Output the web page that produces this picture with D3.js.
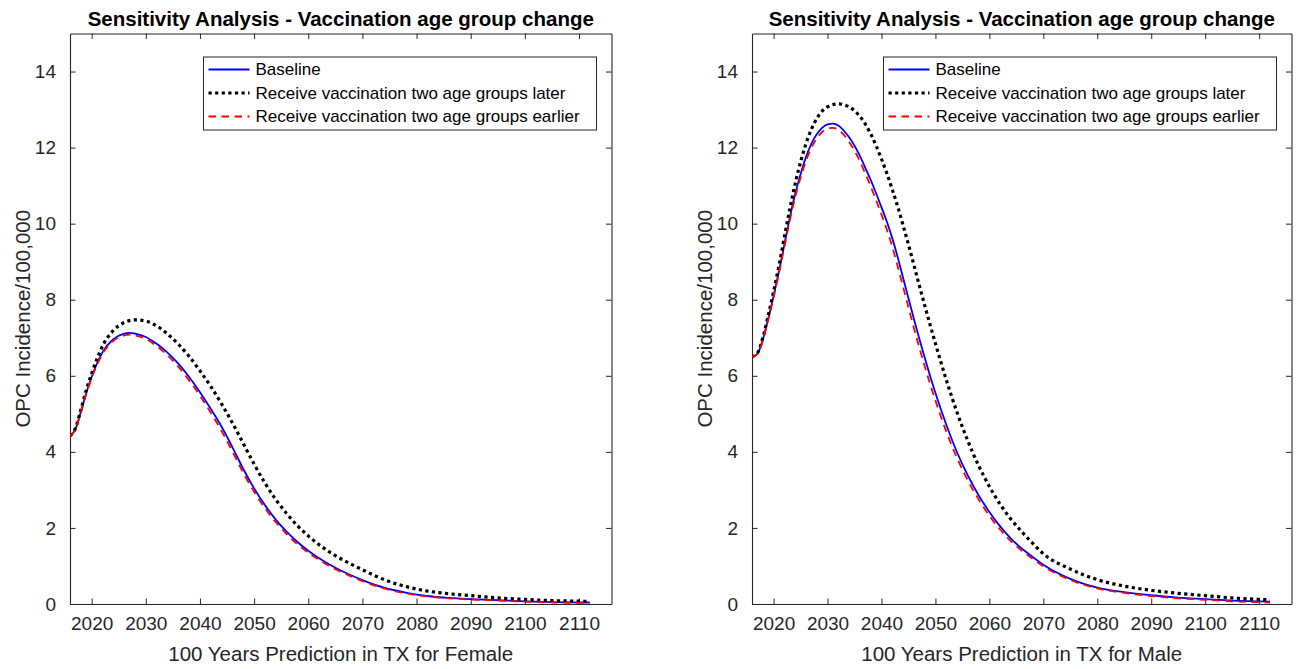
<!DOCTYPE html>
<html>
<head>
<meta charset="utf-8">
<script src="https://cdn.jsdelivr.net/npm/d3@7"></script>
<style>
  html, body { margin: 0; padding: 0; background: #fff; }
  svg { display: block; font-family: "Liberation Sans", Arial, Helvetica, sans-serif; }
</style>
</head>
<body>
<svg id="chart" width="1306" height="669"></svg>
<script>
// ---------------- DATA ----------------
const titleText = "Sensitivity Analysis - Vaccination age group change";
const yLabelText = "OPC Incidence/100,000";
const xLabels = ["100 Years Prediction in TX for Female", "100 Years Prediction in TX for Male"];
const seriesNames = ["Baseline", "Receive vaccination two age groups later", "Receive vaccination two age groups earlier"];
const xTicks = [2020, 2030, 2040, 2050, 2060, 2070, 2080, 2090, 2100, 2110];
const xTickLabels = ["2020", "2030", "2040", "2050", "2060", "2070", "2080", "2090", "2100", "2110"];
const yTicks = [0, 2, 4, 6, 8, 10, 12, 14];
const yTickLabels = ["0", "2", "4", "6", "8", "10", "12", "14"];
const xDomain = [2016, 2116];
const yDomain = [0, 15];

// Female panel
const femaleYears = [2016,2017,2018,2019,2020,2021,2022,2024,2026,2027,2028,2030,2032,2034,2036,2038,2040,2042,2044,2046,2048,2050,2052,2054,2056,2058,2060,2062,2064,2066,2068,2070,2074,2078,2082,2086,2090,2095,2100,2105,2112];
const femaleBaseline = [4.42,4.60,5.05,5.55,5.97,6.33,6.62,6.96,7.11,7.13,7.11,7.02,6.84,6.61,6.32,5.97,5.57,5.13,4.66,4.12,3.55,3.04,2.60,2.22,1.90,1.63,1.40,1.20,1.03,0.88,0.75,0.63,0.43,0.30,0.21,0.16,0.13,0.10,0.07,0.05,0.04];
const femaleLater    = [4.42,4.62,5.10,5.62,6.06,6.45,6.78,7.19,7.40,7.45,7.47,7.44,7.31,7.10,6.83,6.51,6.13,5.72,5.26,4.76,4.22,3.68,3.18,2.75,2.38,2.06,1.79,1.56,1.36,1.19,1.04,0.90,0.64,0.46,0.34,0.27,0.22,0.16,0.12,0.09,0.07];
const femaleEarlier  = [4.42,4.59,5.03,5.52,5.94,6.29,6.58,6.92,7.06,7.08,7.06,6.97,6.78,6.54,6.24,5.88,5.48,5.03,4.55,4.01,3.45,2.95,2.52,2.15,1.84,1.57,1.35,1.16,0.99,0.85,0.72,0.60,0.41,0.28,0.20,0.15,0.12,0.09,0.06,0.04,0.03];

// Male panel
const maleYears = [2016,2017,2018,2019,2020,2021,2022,2023,2024,2025,2026,2027,2028,2029,2030,2031,2032,2033,2034,2035,2036,2037,2038,2039,2040,2041,2042,2043,2044,2045,2046,2047,2048,2049,2050,2052,2054,2056,2058,2060,2062,2064,2066,2068,2070,2075,2080,2085,2090,2095,2100,2105,2112];
const maleBaseline = [6.50,6.58,6.95,7.50,8.10,8.75,9.45,10.15,10.78,11.30,11.75,12.10,12.35,12.52,12.61,12.63,12.58,12.45,12.27,12.05,11.78,11.47,11.15,10.80,10.43,10.05,9.62,9.12,8.58,8.04,7.50,6.98,6.48,6.00,5.55,4.72,3.99,3.38,2.86,2.42,2.04,1.72,1.46,1.24,1.03,0.66,0.43,0.31,0.23,0.17,0.13,0.09,0.06];
const maleLater    = [6.50,6.60,7.00,7.58,8.22,8.90,9.65,10.38,11.05,11.62,12.10,12.48,12.76,12.96,13.07,13.13,13.15,13.13,13.07,12.97,12.82,12.62,12.36,12.05,11.70,11.32,10.90,10.45,9.96,9.45,8.92,8.38,7.86,7.35,6.85,5.90,5.04,4.29,3.64,3.09,2.62,2.23,1.90,1.60,1.32,0.92,0.64,0.47,0.36,0.28,0.22,0.16,0.11];
const maleEarlier  = [6.50,6.57,6.93,7.47,8.06,8.70,9.39,10.08,10.70,11.21,11.65,11.99,12.24,12.41,12.50,12.52,12.47,12.34,12.15,11.92,11.64,11.32,10.98,10.62,10.24,9.84,9.39,8.88,8.34,7.80,7.26,6.75,6.26,5.79,5.35,4.54,3.84,3.25,2.75,2.32,1.96,1.65,1.40,1.19,0.99,0.63,0.41,0.29,0.21,0.15,0.11,0.07,0.04];

// ---------------- LAYOUT / STYLE ----------------
const panels = [
  { x0: 70,  x1: 611.5,  years: femaleYears, series: [femaleBaseline, femaleLater, femaleEarlier], xlabel: xLabels[0] },
  { x0: 752, x1: 1291.5, years: maleYears,   series: [maleBaseline, maleLater, maleEarlier],     xlabel: xLabels[1] }
];
const y0 = 604, y1 = 33.5;
const styles = [
  { color: "#0000ff", width: 1.8, dash: null },
  { color: "#000000", width: 3.2, dash: "3.2 3.4" },
  { color: "#ff0000", width: 1.8, dash: "7.5 5.5" }
];
const axisColor = "#262626";

const svg = d3.select("#chart");
svg.append("rect").attr("width", 1306).attr("height", 669).attr("fill", "#fff");

panels.forEach(p => {
  const x = d3.scaleLinear().domain(xDomain).range([p.x0, p.x1]);
  const y = d3.scaleLinear().domain(yDomain).range([y0, y1]);
  const g = svg.append("g");

  // axes (ticks inside)
  const bottom = g.append("g").attr("transform", `translate(0,${y0})`)
    .call(d3.axisBottom(x).tickValues(xTicks).tickFormat((d, i) => xTickLabels[i]).tickSizeInner(-5.5).tickSizeOuter(0).tickPadding(13));
  const top = g.append("g").attr("transform", `translate(0,${y1})`)
    .call(d3.axisTop(x).tickValues(xTicks).tickFormat("").tickSizeInner(-5.5).tickSizeOuter(0));
  const left = g.append("g").attr("transform", `translate(${p.x0},0)`)
    .call(d3.axisLeft(y).tickValues(yTicks).tickFormat((d, i) => yTickLabels[i]).tickSizeInner(-5.5).tickSizeOuter(0).tickPadding(14));
  const right = g.append("g").attr("transform", `translate(${p.x1},0)`)
    .call(d3.axisRight(y).tickValues(yTicks).tickFormat("").tickSizeInner(-5.5).tickSizeOuter(0));
  [bottom, top, left, right].forEach(a => {
    a.attr("font-family", null);
    a.selectAll("path.domain").attr("stroke", axisColor).attr("stroke-width", 1.1);
    a.selectAll(".tick line").attr("stroke", axisColor).attr("stroke-width", 1);
    a.selectAll(".tick text").attr("fill", axisColor).style("font-size", "19px");
  });

  // lines
  const clipId = "clip" + p.x0;
  svg.append("clipPath").attr("id", clipId).append("rect")
    .attr("x", p.x0).attr("y", y1).attr("width", p.x1 - p.x0).attr("height", y0 - y1);
  const line = d3.line().curve(d3.curveMonotoneX).x(d => x(d[0])).y(d => y(d[1]));
  const lg = g.append("g").attr("clip-path", `url(#${clipId})`);
  p.series.forEach((vals, si) => {
    const st = styles[si];
    lg.append("path")
      .datum(p.years.map((yr, i) => [yr, vals[i]]))
      .attr("d", line)
      .attr("fill", "none")
      .attr("stroke", st.color)
      .attr("stroke-width", st.width)
      .attr("stroke-dasharray", st.dash);
  });

  // title
  g.append("text").attr("x", (p.x0 + p.x1) / 2).attr("y", 25.5)
    .attr("text-anchor", "middle").attr("font-weight", "bold").attr("font-size", 20.5)
    .attr("fill", "#000").text(titleText);
  // x label
  g.append("text").attr("x", (p.x0 + p.x1) / 2).attr("y", 661)
    .attr("text-anchor", "middle").attr("font-size", 20.5).attr("fill", axisColor).text(p.xlabel);
  // y label
  g.append("text").attr("transform", `translate(${p.x0 - 40},${(y0 + y1) / 2}) rotate(-90)`)
    .attr("text-anchor", "middle").attr("font-size", 20.5).attr("fill", axisColor).text(yLabelText);

  // legend
  const lw = 393, lh = 73;
  const lx = p.x1 - 15 - lw, ly = 57;
  const leg = g.append("g");
  leg.append("rect").attr("x", lx).attr("y", ly).attr("width", lw).attr("height", lh)
    .attr("fill", "#fff").attr("stroke", axisColor).attr("stroke-width", 1);
  seriesNames.forEach((name, i) => {
    const cy = ly + 12.5 + i * 23.5;
    const st = styles[i];
    leg.append("line").attr("x1", lx + 5).attr("x2", lx + 46).attr("y1", cy).attr("y2", cy)
      .attr("stroke", st.color).attr("stroke-width", st.width).attr("stroke-dasharray", st.dash);
    leg.append("text").attr("x", lx + 52).attr("y", cy).attr("dy", "0.35em")
      .attr("font-size", 17).attr("fill", "#000").text(name);
  });
});
</script>
</body>
</html>
